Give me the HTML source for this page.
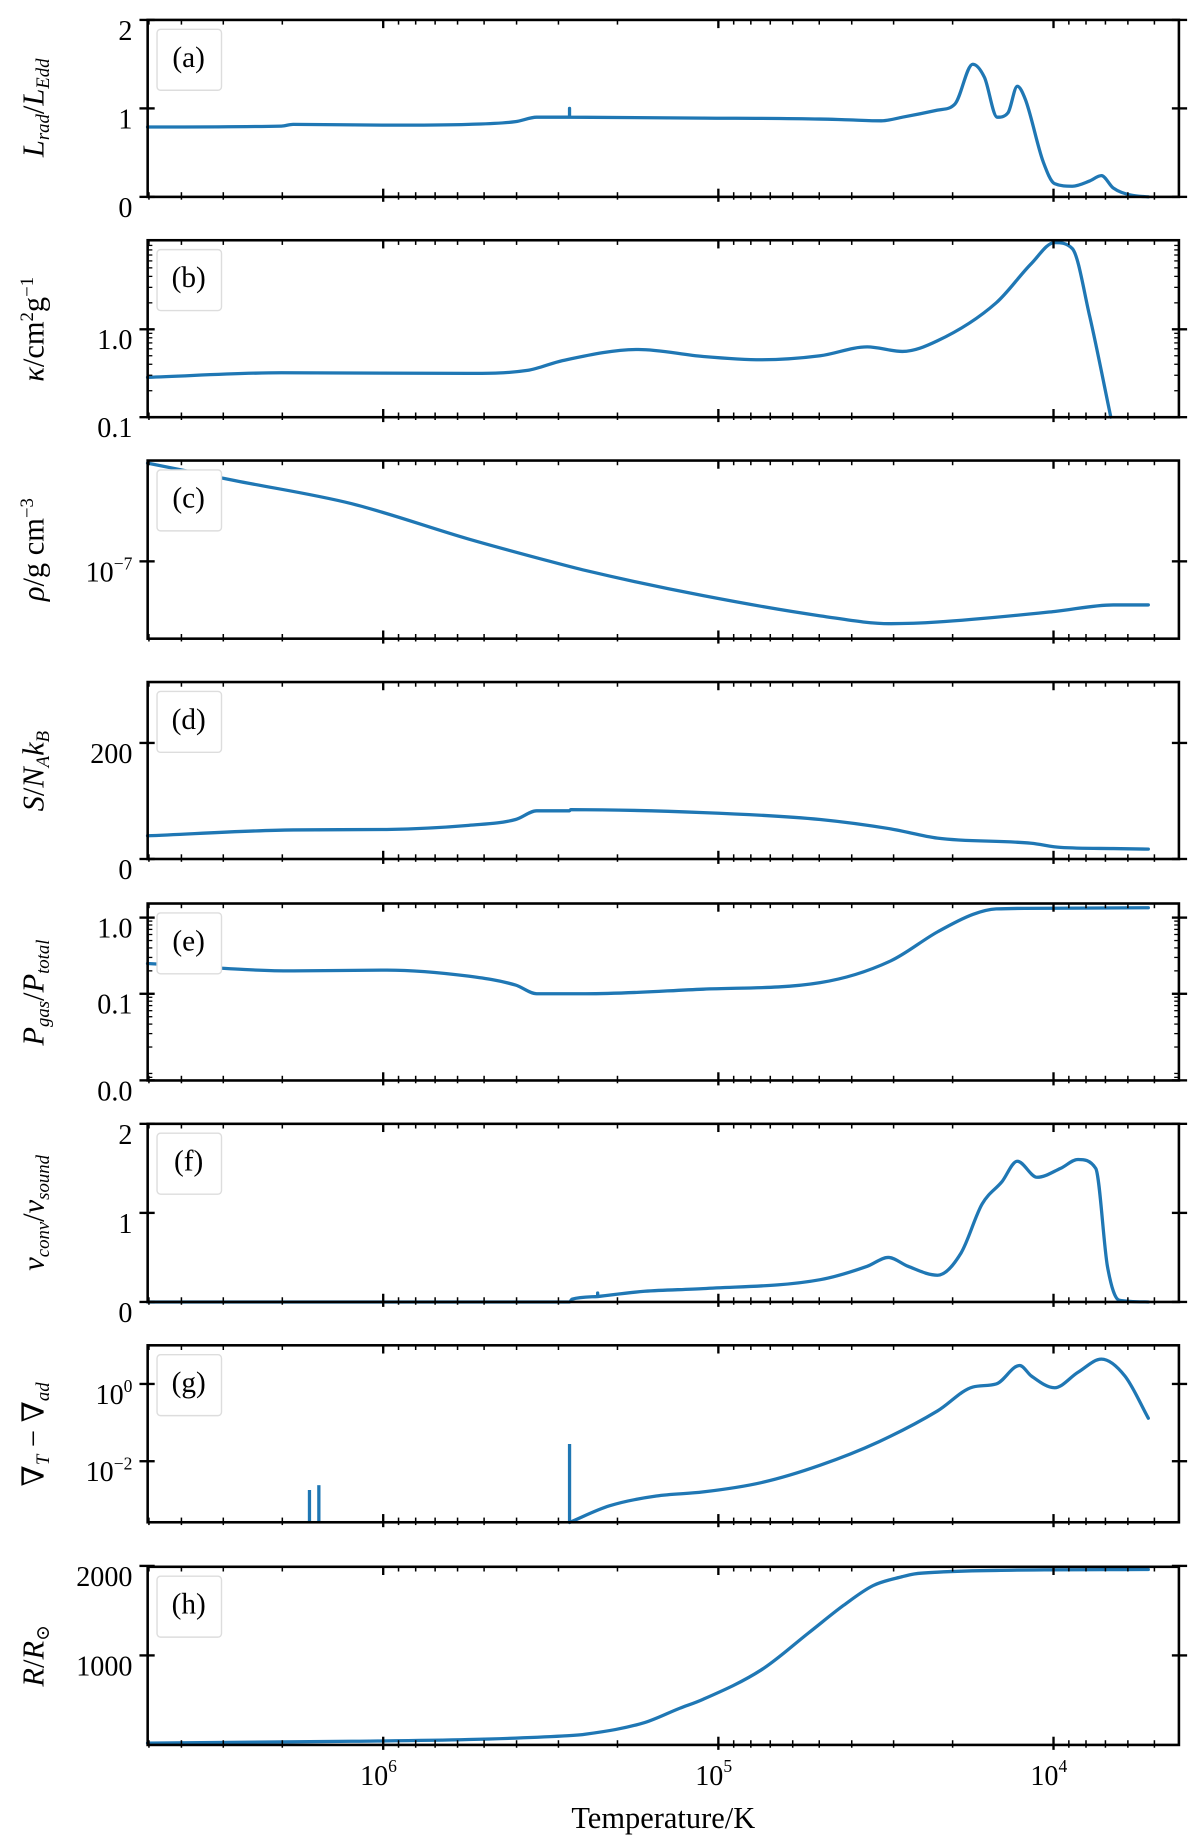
<!DOCTYPE html>
<html><head><meta charset="utf-8"><style>
html,body{margin:0;padding:0;background:#fff}
svg{display:block}
text{font-family:"Liberation Serif","DejaVu Serif",serif;fill:#000}
</style></head><body>
<svg id="fig" xmlns="http://www.w3.org/2000/svg" width="1200" height="1840" viewBox="0 0 1024 1570.13"></svg>
<script>
// ---- data (log10 T, value) ----
const aT=[6.703,6.304,6.269,5.990,5.745,5.605,5.542,5.444,5.444,5.444,5.045,4.696,4.608,4.514,4.451,4.346,4.294,4.241,4.206,4.168,4.136,4.108,4.084,4.031,3.997,3.944,3.892,3.857,3.822,3.769,3.717];
const aV=[0.79,0.80,0.82,0.81,0.82,0.85,0.90,0.90,1.0,0.90,0.89,0.88,0.87,0.86,0.90,0.98,1.05,1.50,1.35,0.90,0.95,1.25,1.10,0.40,0.15,0.12,0.18,0.24,0.10,0.02,0.0];
const bT=[6.703,6.304,5.745,5.570,5.465,5.238,5.045,4.871,4.696,4.556,4.451,4.346,4.171,4.066,3.997,3.944,3.892,3.829];
const bV=[0.284,0.32,0.315,0.34,0.44,0.59,0.49,0.45,0.50,0.63,0.56,0.74,2.0,5.6,9.7,8.3,1.4,0.1];
const cT=[6.703,6.444,6.094,5.745,5.542,5.395,5.045,4.696,4.486,4.346,3.997,3.822,3.717];
const cV=[5.0e-7,3.76e-7,2.57e-7,1.44e-7,1.06e-7,8.6e-8,5.7e-8,4.1e-8,3.6e-8,3.7e-8,4.4e-8,4.9e-8,4.9e-8];
const dT=[6.703,6.269,5.990,5.745,5.605,5.542,5.444,5.441,5.045,4.696,4.486,4.346,4.066,3.979,3.822,3.717];
const dV=[40,50,51,58,68,83,83,85,80,68,52,36,27,20,18,17];
const eT=[6.703,6.269,5.990,5.745,5.605,5.542,5.395,5.045,4.696,4.486,4.346,4.241,4.171,3.997,3.717];
const eV=[0.25,0.2,0.205,0.17,0.13,0.1,0.1,0.115,0.14,0.27,0.65,1.1,1.3,1.33,1.35];
const fT=[6.703,5.444,5.437,5.360,5.360,5.360,5.220,5.045,4.696,4.556,4.493,4.434,4.346,4.276,4.213,4.154,4.108,4.049,3.979,3.927,3.874,3.839,3.804,3.717];
const fV=[0,0,0.03,0.06,0.1,0.06,0.12,0.15,0.25,0.4,0.5,0.4,0.3,0.55,1.1,1.35,1.58,1.4,1.5,1.6,1.5,0.4,0.02,0];
const gSpikeT=[6.220,6.192,5.444];
const gSpikeV=[0.0018,0.0024,0.028];
const gT=[5.444,5.325,5.185,5.045,4.871,4.696,4.521,4.346,4.241,4.171,4.101,4.066,3.997,3.927,3.857,3.787,3.717];
const gV=[0.00026,0.0007,0.00126,0.0016,0.0028,0.0079,0.032,0.2,0.83,1.0,3.0,1.6,0.8,2.0,4.4,1.6,0.13];
const hT=[6.703,6.094,5.745,5.465,5.395,5.220,5.115,5.045,4.871,4.731,4.626,4.538,4.451,4.416,4.346,4.171,3.717];
const hV=[20,40,60,100,120,250,410,510,840,1250,1560,1780,1880,1910,1930,1950,1960];
const xTickExp=[6,5,4];
const labels=['(a)','(b)','(c)','(d)','(e)','(f)','(g)','(h)'];

const NS='http://www.w3.org/2000/svg';
const svg=document.getElementById('fig');
const L=126,R=1006;
function X(lt){return 327+(6-lt)*286;}
function mk(tag,attrs,parent){const e=document.createElementNS(NS,tag);for(const k in attrs)e.setAttribute(k,attrs[k]);(parent||svg).appendChild(e);return e;}

// monotone cubic path through points with increasing x (duplicates -> straight)
function monoPath(pts){
 let d='M'+pts[0][0].toFixed(1)+','+pts[0][1].toFixed(1);
 // split into runs of strictly increasing x
 let runs=[],cur=[pts[0]];
 for(let i=1;i<pts.length;i++){
  if(pts[i][0]-cur[cur.length-1][0]<0.01){runs.push(cur);cur=[pts[i]];}
  else cur.push(pts[i]);
 }
 runs.push(cur);
 runs.forEach((r,ri)=>{
  if(ri>0)d+='L'+r[0][0].toFixed(1)+','+r[0][1].toFixed(1);
  const n=r.length;if(n<2)return;
  const dx=[],s=[];for(let i=0;i<n-1;i++){dx.push(r[i+1][0]-r[i][0]);s.push((r[i+1][1]-r[i][1])/dx[i]);}
  const m=new Array(n);m[0]=s[0];m[n-1]=s[n-2];
  for(let i=1;i<n-1;i++){m[i]=(s[i-1]*s[i]<=0)?0:(s[i-1]+s[i])/2;}
  for(let i=0;i<n-1;i++){if(s[i]===0){m[i]=0;m[i+1]=0;continue;}
   const a=m[i]/s[i],b=m[i+1]/s[i],h=a*a+b*b;if(h>9){const t=3/Math.sqrt(h);m[i]=t*a*s[i];m[i+1]=t*b*s[i];}}
  for(let i=0;i<n-1;i++){const h=dx[i]/3;
   d+='C'+(r[i][0]+h).toFixed(1)+','+(r[i][1]+m[i]*h).toFixed(1)+' '+(r[i+1][0]-h).toFixed(1)+','+(r[i+1][1]-m[i+1]*h).toFixed(1)+' '+r[i+1][0].toFixed(1)+','+r[i+1][1].toFixed(1);}
 });
 return d;
}

const panels=[
 {top:17,bot:168,scale:'lin',lo:0,hi:2,T:aT,V:aV,ticks:[[0,'0'],[1,'1'],[2,'2']],name:'luminosity-panel'},
 {top:205,bot:356,scale:'log',lo:-1,hi:1.0133,T:bT,V:bV,ticks:[[0.1,'0.1'],[1,'1.0']],minor:true,name:'opacity-panel'},
 {top:393,bot:545,scale:'log',lo:-7.55,hi:-6.283,T:cT,V:cV,ticks:[[1e-7,'10^-7']],name:'density-panel'},
 {top:582,bot:733,scale:'lin',lo:0,hi:305,T:dT,V:dV,ticks:[[0,'0'],[200,'200']],name:'entropy-panel'},
 {top:771,bot:922,scale:'log',lo:-2.138,hi:0.185,T:eT,V:eV,ticks:[[0.0073,'0.0'],[0.1,'0.1'],[1,'1.0']],minor:true,name:'pressure-ratio-panel'},
 {top:959,bot:1111,scale:'lin',lo:0,hi:2,T:fT,V:fV,ticks:[[0,'0'],[1,'1'],[2,'2']],name:'convective-velocity-panel'},
 {top:1148,bot:1299,scale:'log',lo:-3.58,hi:1.0,T:gT,V:gV,ticks:[[1,'10^0'],[0.01,'10^-2']],name:'gradient-panel'},
 {top:1337,bot:1489,scale:'lin',lo:0,hi:1990,T:hT,V:hV,ticks:[[1000,'1000'],[2000,'2000']],name:'radius-panel'}
];

panels.forEach((p,i)=>{
 const g=mk('g',{});
 
 
 const Y=v=>{const t=p.scale==='log'?Math.log10(v):v;return p.bot-(t-p.lo)/(p.hi-p.lo)*(p.bot-p.top);};
 const pts=p.T.map((t,k)=>[X(t),Y(p.V[k])]);
 const ln=mk('path',{d:monoPath(pts),fill:'none',stroke:'#1f77b4','stroke-width':2.8,'stroke-linejoin':'round','stroke-linecap':'round'},g);
 
 
 if(i===6){
  gSpikeT.forEach((t,k)=>{
   const s=mk('line',{x1:X(t),x2:X(t),y1:p.bot,y2:Y(gSpikeV[k]),stroke:'#1f77b4','stroke-width':2.8},g);
   
   
  });
 }
 const fr=mk('rect',{x:L,y:p.top,width:R-L,height:p.bot-p.top,fill:'none',stroke:'#000','stroke-width':2.2},g);
 
 
 for(let e=3;e<=6;e++){for(let m=1;m<10;m++){
  const lt=e+Math.log10(m);const x=X(lt);if(x<L||x>R)continue;
  const len=m===1?7:4;
  mk('line',{x1:x,x2:x,y1:p.bot,y2:p.bot-len,stroke:'#000','stroke-width':m===1?2:1.3},g);
  mk('line',{x1:x,x2:x,y1:p.top,y2:p.top+len,stroke:'#000','stroke-width':m===1?2:1.3},g);
  mk('line',{x1:x,x2:x,y1:p.bot,y2:p.bot+len*0.6,stroke:'#000','stroke-width':m===1?2:1.3},g);
 }}
 if(p.minor){for(let e=-3;e<=1;e++){for(let m=2;m<10;m++){const y=Y(m*Math.pow(10,e));if(y<p.top||y>p.bot)continue;
  mk('line',{x1:L,x2:L+4,y1:y,y2:y,stroke:'#000','stroke-width':1.1},g);mk('line',{x1:R,x2:R-4,y1:y,y2:y,stroke:'#000','stroke-width':1.1},g);}}}
 p.ticks.forEach(([v,lab])=>{
  const y=Y(v);
  mk('line',{x1:L-7,x2:L+6,y1:y,y2:y,stroke:'#000','stroke-width':2},g);
  mk('line',{x1:R-6,x2:R+7,y1:y,y2:y,stroke:'#000','stroke-width':2},g);
  const t=mk('text',{x:113,y:y+17,'text-anchor':'end','font-size':24},g);
  
  
  if(lab.startsWith('10^')){t.textContent='10';const s=mk('tspan',{'font-size':15,dy:-10},t);s.textContent=lab.slice(3).replace('-','\u2212');}
  else t.textContent=lab;
 });
 const bx=mk('rect',{x:L+8,y:p.top+8,width:55,height:52,rx:3,fill:'#fff',stroke:'#ddd','stroke-width':1.2},g);
 
 
 const pl=mk('text',{x:L+35,y:p.top+40,'text-anchor':'middle','font-size':25},g);
 
 
 pl.textContent=labels[i];
});

const ytitles=[
 {c:92,html:'<tspan font-style="italic">L</tspan><tspan font-style="italic" font-size="16" dy="5">rad</tspan><tspan dy="-5">/</tspan><tspan font-style="italic">L</tspan><tspan font-style="italic" font-size="16" dy="5">Edd</tspan>'},
 {c:281,html:'<tspan font-style="italic">κ</tspan>/cm<tspan font-size="16" dy="-9">2</tspan><tspan dy="9">g</tspan><tspan font-size="16" dy="-9">−1</tspan>'},
 {c:469,html:'<tspan font-style="italic">ρ</tspan>/g cm<tspan font-size="16" dy="-9">−3</tspan>'},
 {c:658,html:'<tspan font-style="italic">S</tspan>/<tspan font-style="italic">N</tspan><tspan font-style="italic" font-size="16" dy="5">A</tspan><tspan font-style="italic" dy="-5">k</tspan><tspan font-style="italic" font-size="16" dy="5">B</tspan>'},
 {c:847,html:'<tspan font-style="italic">P</tspan><tspan font-style="italic" font-size="16" dy="5">gas</tspan><tspan dy="-5">/</tspan><tspan font-style="italic">P</tspan><tspan font-style="italic" font-size="16" dy="5">total</tspan>'},
 {c:1035,html:'<tspan font-style="italic">v</tspan><tspan font-style="italic" font-size="16" dy="5">conv</tspan><tspan dy="-5">/</tspan><tspan font-style="italic">v</tspan><tspan font-style="italic" font-size="16" dy="5">sound</tspan>'},
 {c:1224,html:'∇<tspan font-style="italic" font-size="16" dy="5">T</tspan><tspan dy="-5"> − ∇</tspan><tspan font-style="italic" font-size="16" dy="5">ad</tspan>'},
 {c:1413,html:'<tspan font-style="italic">R</tspan>/<tspan font-style="italic">R</tspan><tspan font-size="16" dy="5">⊙</tspan>'}
];
ytitles.forEach(o=>{
 const t=mk('text',{transform:'translate(37,'+o.c+') rotate(-90)','text-anchor':'middle','font-size':26});
 
 
 t.innerHTML=o.html;
});
xTickExp.forEach(e=>{
 const t=mk('text',{x:X(e)-4,y:1523,'text-anchor':'middle','font-size':24});
 
 
 t.textContent='10';
 const s=mk('tspan',{'font-size':15,dy:-11},t);s.textContent=String(e);
});
const xt=mk('text',{x:566,y:1560,'text-anchor':'middle','font-size':26});


xt.textContent='Temperature/K';
</script>
</body></html>
